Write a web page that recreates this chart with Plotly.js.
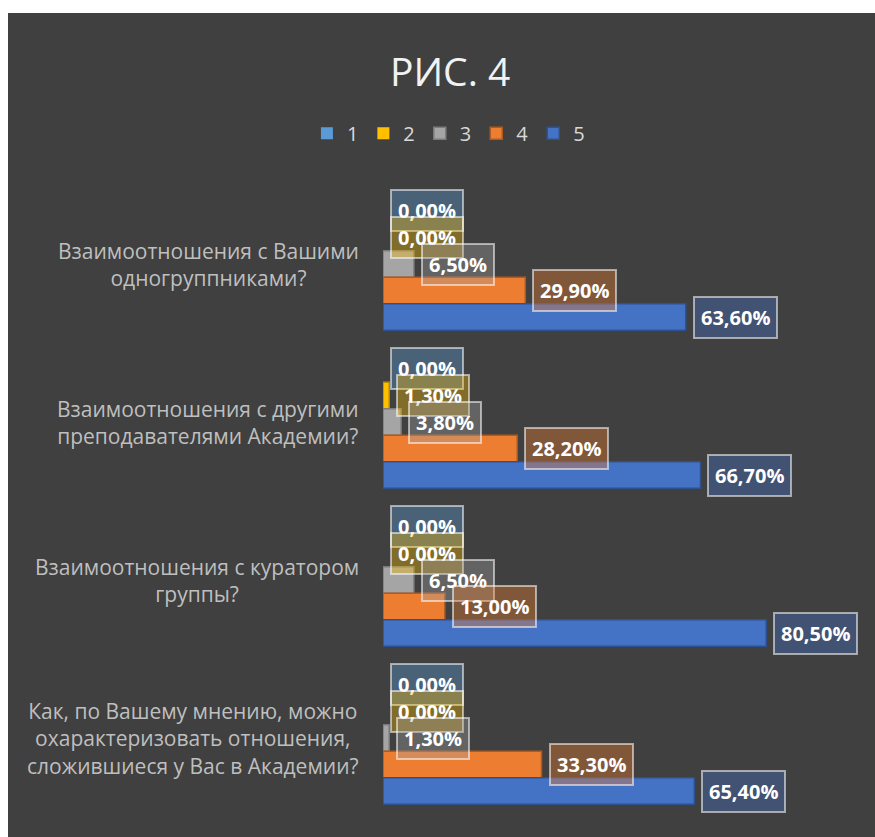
<!DOCTYPE html>
<html>
<head>
<meta charset="utf-8">
<script src="https://cdn.plot.ly/plotly-3.0.1.min.js"></script>
<style>
  html, body { margin: 0; padding: 0; background: #ffffff; }
  #chart { position: absolute; left: 8px; top: 13px; width: 867px; height: 824px; }
</style>
</head>
<body>
<div id="chart"></div>
<script>
// ---- Data ----
const categories = [
  "Взаимоотношения с Вашими<br>одногруппниками?",
  "Взаимоотношения с другими<br>преподавателями Академии?",
  "Взаимоотношения с куратором<br>группы?",
  "Как, по Вашему мнению, можно<br>охарактеризовать отношения,<br>сложившиеся у Вас в Академии?"
];
const seriesNames = ["1", "2", "3", "4", "5"];
const s1 = [0.0, 0.0, 0.0, 0.0];
const s2 = [0.0, 1.3, 0.0, 0.0];
const s3 = [6.5, 3.8, 6.5, 1.3];
const s4 = [29.9, 28.2, 13.0, 33.3];
const s5 = [63.6, 66.7, 80.5, 65.4];
const seriesValues = [s1, s2, s3, s4, s5];

// ---- Styles ----
const fillColors = ["#5B9BD5", "#FFC000", "#A5A5A5", "#ED7D31", "#4472C4"];
const lineColors = ["#41719C", "#BC8C00", "#7C7C7C", "#AE5A21", "#2F528F"];
const labelBg = [
  "rgba(91,155,213,0.38)", "rgba(255,192,0,0.35)", "rgba(165,165,165,0.35)",
  "rgba(237,125,49,0.38)", "rgba(68,114,196,0.38)"
];

const W = 867, H = 824;
const margin = { l: 375, r: 16, t: 172, b: 20 };
const bargap = 0.16;
const plotH = H - margin.t - margin.b;
const barPx = plotH / categories.length * (1 - bargap) / seriesNames.length;

const fmt = v => v.toFixed(2).replace(".", ",") + "%";

const traces = seriesNames.map((name, i) => ({
  type: "bar",
  orientation: "h",
  name: name,
  x: seriesValues[i],
  y: categories,
  marker: {
    color: fillColors[i],
    line: { color: lineColors[i], width: seriesValues[i].map(v => (v > 0 ? 1.5 : 0)) }
  },
  hoverinfo: "x+name"
}));

const annotations = [];
// data labels
seriesNames.forEach((name, i) => {
  seriesValues[i].forEach((v, j) => {
    annotations.push({
      xref: "x", yref: "y",
      x: v, y: categories[j],
      xanchor: "left", yanchor: "middle",
      xshift: 7,
      yshift: (2 - i) * barPx,
      text: fmt(v),
      showarrow: false,
      font: { family: "Open Sans", size: 20, color: "#ffffff", weight: "bold" },
      bgcolor: labelBg[i],
      bordercolor: "rgba(255,255,255,0.55)",
      borderwidth: 2,
      borderpad: 6
    });
  });
});
// category labels
categories.forEach(c => {
  annotations.push({
    xref: "paper", yref: "y",
    x: 0, y: c,
    xanchor: "right", yanchor: "middle",
    xshift: -22,
    align: "center",
    text: c,
    showarrow: false,
    font: { family: "Open Sans", size: 21, color: "#bfbfbf" }
  });
});

const layout = {
  width: W, height: H,
  margin: margin,
  paper_bgcolor: "#404040",
  plot_bgcolor: "#404040",
  barmode: "group",
  bargap: bargap,
  bargroupgap: 0,
  title: {
    text: "РИС. 4",
    font: { family: "Open Sans", size: 39, color: "#f2f2f2" },
    xref: "container", x: 0.51, xanchor: "center",
    yref: "container", y: 0.928, yanchor: "middle"
  },
  legend: {
    orientation: "h",
    xref: "container", x: 0.508, xanchor: "center",
    yref: "container", y: 0.854, yanchor: "middle",
    font: { family: "Open Sans", size: 20, color: "#d9d9d9" },
    bgcolor: "rgba(0,0,0,0)",
    traceorder: "normal",
    itemwidth: 30
  },
  xaxis: {
    range: [0, 100],
    showgrid: false, zeroline: false, showticklabels: false, showline: false, ticks: ""
  },
  yaxis: {
    type: "category",
    autorange: "reversed",
    showgrid: false, zeroline: false, showticklabels: false, showline: false, ticks: ""
  },
  annotations: annotations,
  showlegend: true
};

Plotly.newPlot("chart", traces, layout, { displayModeBar: false, staticPlot: true });
</script>
</body>
</html>
